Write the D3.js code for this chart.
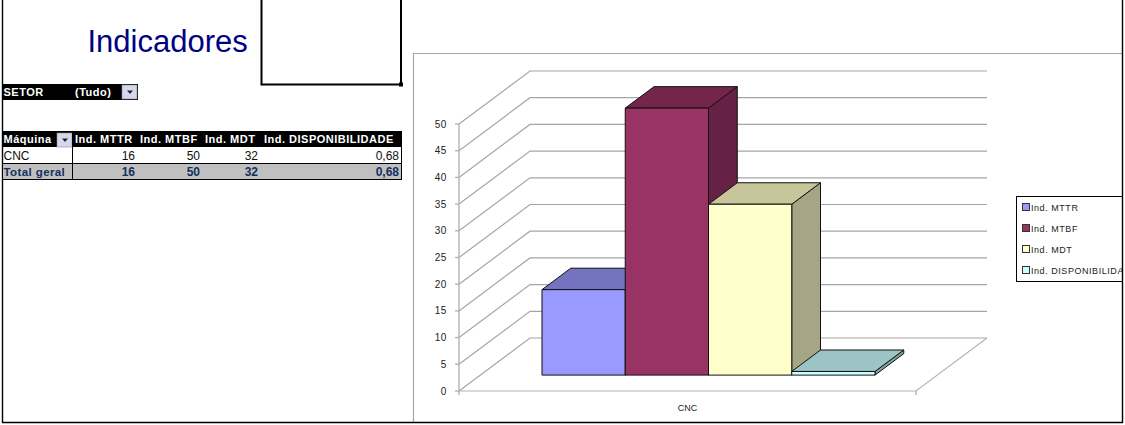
<!DOCTYPE html>
<html><head><meta charset="utf-8">
<script src="https://cdn.jsdelivr.net/npm/d3@7"></script>
<style>html,body{margin:0;padding:0;background:#fff;overflow:hidden}svg{display:block}text{font-family:"Liberation Sans",Arial,sans-serif}</style>
</head><body><svg id="c" width="1125" height="425"></svg>
<script>
const categories=["CNC"];
const seriesNames=["Ind. MTTR","Ind. MTBF","Ind. MDT","Ind. DISPONIBILIDADE"];
const seriesValues=[16,50,32,0.68];
const valueLabels=["16","50","32","0,68"];
const yTicks=[0,5,10,15,20,25,30,35,40,45,50];
const frontColors=["#9999ff","#993366","#ffffcc","#ccffff"];
const topColors=["#7373c0","#732649","#c6c69a","#9cc4c6"];
const sideColors=["#6a6ab0","#662244","#a6a686","#7fa6a6"];

const svg=d3.select("#c");
const y=d3.scaleLinear().domain([0,50]).range([391,124]);
const x=d3.scaleLinear().domain([0,1]).range([459,916]);
const depth=d3.scaleLinear().domain([0,1]).range([0,1]);
const DX=71,DY=-53;
const P=(fx,v,d)=>[x(fx)+DX*depth(d),y(v)+DY*depth(d)];
const path=pts=>"M"+pts.map(p=>p.join(",")).join("L")+"Z";
const line=d3.line();

// chart frame
svg.append("path").attr("d","M413.5,423V53.5H1122").attr("fill","none").attr("stroke","#a8a8a8").attr("stroke-width",1.2);

// gridlines: side wall and back wall
const grid=svg.append("g").attr("fill","none").attr("stroke","#a6a6a6").attr("stroke-width",1.2);
grid.selectAll("path").data(yTicks).join("path")
  .attr("d",v=>line([P(0,v,0),P(0,v,1),P(1,v,1)]));
// floor
const floor=svg.append("g").attr("fill","none").attr("stroke","#b4b4b4").attr("stroke-width",1.2);
floor.append("path").attr("d",line([P(0,0,0),P(1,0,0),P(1,0,1)]));
// value axis
const ax=svg.append("g").attr("stroke","#b4b4b4").attr("stroke-width",1.4);
ax.append("line").attr("x1",x(0)).attr("x2",x(0)).attr("y1",y(50)).attr("y2",y(0)+4);
ax.selectAll("line.t").data(yTicks).join("line").attr("class","t")
  .attr("x1",x(0)-4).attr("x2",x(0)).attr("y1",d=>y(d)).attr("y2",d=>y(d));
ax.append("line").attr("x1",x(1)).attr("x2",x(1)).attr("y1",y(0)).attr("y2",y(0)+4);
svg.append("g").selectAll("text").data(yTicks).join("text")
  .attr("x",447).attr("y",d=>y(d)+3.5).attr("text-anchor","end")
  .attr("font-size",10).attr("letter-spacing",0.6).attr("fill","#222").text(d=>d);
svg.selectAll("text.cat").data(categories).join("text").attr("class","cat")
  .attr("x",687.5).attr("y",411).attr("text-anchor","middle").attr("font-size",9).attr("fill","#222").text(d=>d);

// bars
const band=d3.scaleBand().domain(seriesNames).range([0.135,0.8637]);
const d0=0.30,d1=0.705;
const bars=svg.append("g").attr("stroke","#111").attr("stroke-width",1).attr("stroke-linejoin","round");
seriesNames.forEach((s,i)=>{
  const a=band(s),b=a+band.bandwidth(),v=seriesValues[i];
  const g=bars.append("g");
  g.append("path").attr("fill",sideColors[i]).attr("d",path([P(b,0,d0),P(b,0,d1),P(b,v,d1),P(b,v,d0)]));
  g.append("path").attr("fill",topColors[i]).attr("d",path([P(a,v,d0),P(b,v,d0),P(b,v,d1),P(a,v,d1)]));
  g.append("path").attr("fill",frontColors[i]).attr("d",path([P(a,v,d0),P(b,v,d0),P(b,0,d0),P(a,0,d0)]));
});

// legend, cut by the right edge of the frame as in the source
svg.append("clipPath").attr("id","legclip").append("rect").attr("x",1010).attr("y",190).attr("width",113).attr("height",100);
const legendG=svg.append("g").attr("clip-path","url(#legclip)");
legendG.append("rect").attr("x",1016.5).attr("y",196.5).attr("width",120).attr("height",85).attr("fill","#fff").attr("stroke","#000");
const leg=legendG.append("g").selectAll("g").data(seriesNames).join("g").attr("transform",(d,i)=>`translate(0,${207+i*21})`);
leg.append("rect").attr("x",1022.5).attr("y",-3.5).attr("width",7).attr("height",7).attr("fill",(d,i)=>frontColors[i]).attr("stroke","#333");
leg.append("text").attr("x",1031).attr("y",3.5).attr("font-size",9).attr("letter-spacing",0.55).attr("fill","#222").text(d=>d);

// page frame
svg.append("path").attr("d","M2.5,0V422.5H1122.5V0").attr("fill","none").attr("stroke","#000").attr("stroke-width",1.4);

// title and picture box
svg.append("text").attr("x",87.5).attr("y",52).attr("font-size",31).attr("fill","#000080").text("Indicadores");
svg.append("path").attr("d","M261.5,0V84.5H401V0").attr("fill","none").attr("stroke","#000").attr("stroke-width",2);
svg.append("rect").attr("x",399).attr("y",82.5).attr("width",4).attr("height",4).attr("fill","#000");

// dropdown helper
function drop(xp,yp){
  const g=svg.append("g").attr("transform",`translate(${xp},${yp})`);
  g.append("rect").attr("width",15).attr("height",14).attr("fill","#d4d8e8").attr("stroke","#8a8aa0").attr("stroke-width",.6);
  g.append("path").attr("d","M5,5.5h6l-3,3.5z").attr("fill","#223");
}
// page filter
svg.append("rect").attr("x",3).attr("y",84).attr("width",135).attr("height",16).attr("fill","#000");
const T=(t,xp,yp,o={})=>svg.append("text").attr("x",xp).attr("y",yp).attr("text-anchor",o.a||"start")
  .attr("font-size",o.s||11).attr("font-weight",o.w||"bold").attr("letter-spacing",o.l??0.5).attr("fill",o.c||"#fff").text(t);
T("SETOR",3.5,96);
T("(Tudo)",75,96);
drop(122,85);

// pivot table
const headers=["Máquina","Ind. MTTR","Ind. MTBF","Ind. MDT","Ind. DISPONIBILIDADE"];
const headerX=[3.5,75,140,205,264];
svg.append("rect").attr("x",3).attr("y",131).attr("width",399).attr("height",16).attr("fill","#000");
svg.append("rect").attr("x",3).attr("y",164).attr("width",399).attr("height",16).attr("fill","#c0c0c0");
headers.forEach((h,i)=>T(h,headerX[i],143,{}));
drop(57,133);
T(categories[0],3.5,160,{w:"normal",c:"#111",l:0,s:12});
T("Total geral",3.5,176,{c:"#12305e",l:.4,s:11.5});
const dataRight=[135,200,258,399];
valueLabels.forEach((v,i)=>{
  T(v,dataRight[i],160,{a:"end",w:"normal",c:"#111",l:0,s:12});
  T(v,dataRight[i],176,{a:"end",c:"#12305e",l:0,s:12});
});
const rules=svg.append("g").attr("stroke","#000").attr("stroke-width",1);
rules.append("line").attr("x1",3).attr("x2",402).attr("y1",163.5).attr("y2",163.5);
rules.append("line").attr("x1",3).attr("x2",402).attr("y1",179.5).attr("y2",179.5);
rules.append("line").attr("x1",401.5).attr("x2",401.5).attr("y1",147).attr("y2",180);
rules.append("line").attr("x1",72.5).attr("x2",72.5).attr("y1",131).attr("y2",180);
</script></body></html>
